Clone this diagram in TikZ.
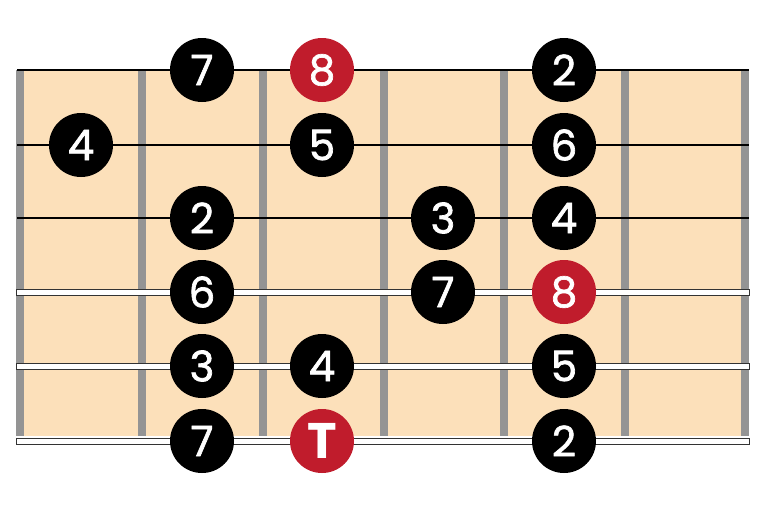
\documentclass[tikz,border=0pt]{standalone}
\usepackage{fontspec}
\setmainfont{Poppins}
\newfontfamily\notefont{Poppins}[FakeBold=1.6]
\usetikzlibrary{positioning}

\definecolor{fretwood}{RGB}{252,224,186}
\definecolor{fretgray}{RGB}{148,148,148}
\definecolor{rootred}{RGB}{192,28,44}

\begin{document}
\begin{tikzpicture}[x=1pt,y=-1pt,
    note/.style={circle,fill=black,text=white,minimum size=64pt,inner sep=0pt,font=\notefont\fontsize{42}{42}\selectfont},
    root/.style={note,fill=rootred},
    thinstring/.style={black,line width=2.6pt},
    stringedge/.style={black!80,line width=7pt},
    stringcore/.style={white,line width=5pt}]
        \useasboundingbox (0,0) rectangle (766,512);
        \fill[fretwood] (16,70) rectangle (749,436); % wood

        % frets
        \fill[fretgray] (16,70) rectangle (24,436);
        \fill[fretgray] (138,70) rectangle (146,436);
        \fill[fretgray] (259,70) rectangle (267,436);
        \fill[fretgray] (380,70) rectangle (388,436);
        \fill[fretgray] (500,70) rectangle (508,436);
        \fill[fretgray] (621,70) rectangle (629,436);
        \fill[fretgray] (741,70) rectangle (749,436);

        % strings
        \draw[thinstring] (17,70) -- (749,70);
        \draw[thinstring] (17,145) -- (749,145);
        \draw[thinstring] (17,218) -- (749,218);
        \draw[stringedge] (16,292) -- (750,292);
        \draw[stringcore] (17,292) -- (749,292);
        \draw[stringedge] (16,366) -- (750,366);
        \draw[stringcore] (17,366) -- (749,366);
        \draw[stringedge] (16,441) -- (750,441);
        \draw[stringcore] (17,441) -- (749,441);

        % notes
        \node[note] (s1f2) at (202,70) {7};
        \node[root] (s1f3) at (322,70) {8};
        \node[note] (s1f5) at (564,70) {2};

        \node[note] (s2f1) at (81,145) {4};
        \node[note] (s2f3) at (322,145) {5};
        \node[note] (s2f5) at (564,145) {6};

        \node[note] (s3f2) at (202,218) {2};
        \node[note] (s3f4) at (443,218) {3};
        \node[note] (s3f5) at (564,218) {4};

        \node[note] (s4f2) at (202,292) {6};
        \node[note] (s4f4) at (443,292) {7};
        \node[root] (s4f5) at (564,292) {8};

        \node[note] (s5f2) at (202,366) {3};
        \node[note] (s5f3) at (322,366) {4};
        \node[note] (s5f5) at (564,366) {5};

        \node[note] (s6f2) at (202,441) {7};
        \node[root,font=\fontsize{50}{50}\selectfont\bfseries] (s6f3) at (322,441) {T};
        \node[note] (s6f5) at (564,441) {2};
    \end{tikzpicture}
\end{document}
